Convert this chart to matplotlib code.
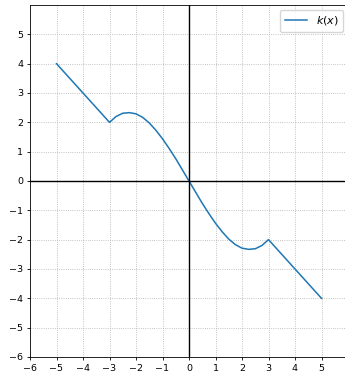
import numpy as np
import matplotlib
matplotlib.use("Agg")
import matplotlib.pyplot as plt

# data
x_vals = [-5, -3, -2.75, -2.5, -2.25, -2.0, -1.75, -1.5, -1.25, -1.0, -0.75, -0.5, -0.25, 0,
          0.25, 0.5, 0.75, 1.0, 1.25, 1.5, 1.75, 2.0, 2.25, 2.5, 2.75, 3, 5]
k_vals = [4, 2, 2.2, 2.31, 2.33, 2.29, 2.17, 1.98, 1.73, 1.44, 1.11, 0.76, 0.38, 0,
          -0.38, -0.76, -1.11, -1.44, -1.73, -1.98, -2.17, -2.29, -2.33, -2.31, -2.2, -2, -4]
x_ticks = list(range(-6, 6))
y_ticks = list(range(-6, 6))

plt.rcParams['font.size'] = 6.8
fig = plt.figure(figsize=(3.45, 3.77), dpi=100)
ax = fig.add_axes([30/345, 20/377, 318/345, 352/377])

ax.plot(x_vals, k_vals, color='#1f77b4', lw=1.1, label='$k(x)$')
ax.axhline(0, color='black', lw=1.0)
ax.axvline(0, color='black', lw=1.0)
ax.set_xlim(-6, 6)
ax.set_ylim(-6, 6)
ax.set_xticks(x_ticks)
ax.set_yticks(y_ticks)
ax.grid(True, linestyle=':', color='#b0b0b0', lw=0.6)
for sp in ax.spines.values():
    sp.set_linewidth(0.6)
ax.tick_params(width=0.6, length=2.5, pad=2.5)
ax.legend(loc='upper right', fontsize=8, borderaxespad=0.45)

fig.savefig('out.png', dpi=100)
